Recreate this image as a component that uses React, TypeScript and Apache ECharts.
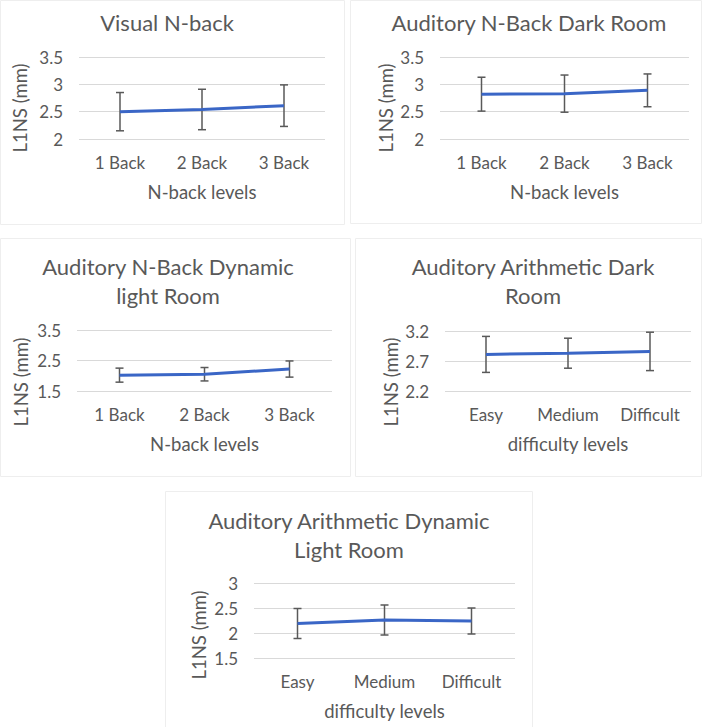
import React, { useEffect, useRef } from "react";
import * as echarts from "echarts";

const nbackCategories = ["1 Back", "2 Back", "3 Back"];
const difficultyCategories = ["Easy", "Medium", "Difficult"];

const visualMean = [2.5, 2.54, 2.61];
const visualErr = [0.35, 0.37, 0.38];
const darkMean = [2.82, 2.83, 2.89];
const darkErr = [0.31, 0.34, 0.3];
const dynMean = [2.02, 2.05, 2.22];
const dynErr = [0.23, 0.22, 0.265];
const arithDarkMean = [2.81, 2.83, 2.86];
const arithDarkErr = [0.3, 0.25, 0.32];
const arithDynMean = [2.19, 2.26, 2.24];
const arithDynErr = [0.3, 0.3, 0.26];

const titles = [
  "Visual N-back",
  "Auditory N-Back Dark Room",
  "Auditory N-Back Dynamic\nlight Room",
  "Auditory Arithmetic Dark\nRoom",
  "Auditory Arithmetic Dynamic\nLight Room",
];
const xTitles = ["N-back levels", "N-back levels", "N-back levels", "difficulty levels", "difficulty levels"];
const yTitle = "L1NS (mm)";
const yMins = [2, 2, 1.5, 2.2, 1.5];
const yMaxs = [3.5, 3.5, 3.5, 3.2, 3];
const yIntervals = [0.5, 0.5, 1, 0.5, 0.5];

const FONT = "Lato, 'Open Sans', sans-serif";
const TEXT = "#595959";
const BLUE = "#3a66c6";
const BAR = "#595959";

export default function App() {
  const ref = useRef<HTMLDivElement>(null);
  useEffect(() => {
    if (!ref.current) return;
    const chart = echarts.init(ref.current, undefined, { renderer: "svg" });

    const panels = [
      { cats: nbackCategories, mean: visualMean, err: visualErr, grid: { left: 79, top: 57, width: 246, height: 82 }, title: [167, 7.5], yT: [20, 108], box: [0, 0, 345, 225] },
      { cats: nbackCategories, mean: darkMean, err: darkErr, grid: { left: 440, top: 57, width: 249, height: 82 }, title: [529, 8], yT: [386, 108], box: [350, 0, 352, 224] },
      { cats: nbackCategories, mean: dynMean, err: dynErr, grid: { left: 77, top: 330, width: 255, height: 61 }, title: [168, 252], yT: [21, 382], box: [0, 238, 351, 239] },
      { cats: difficultyCategories, mean: arithDarkMean, err: arithDarkErr, grid: { left: 445, top: 331, width: 246, height: 60 }, title: [533, 252], yT: [391, 382], box: [355, 238, 347, 239] },
      { cats: difficultyCategories, mean: arithDynMean, err: arithDynErr, grid: { left: 254, top: 583, width: 261, height: 75 }, title: [349, 505.5], yT: [199, 635], box: [165, 491, 368, 240] },
    ];

    const option: any = {
      animation: false,
      backgroundColor: "#ffffff",
      textStyle: { fontFamily: FONT },
      title: panels.map((p, i) => ({
        text: titles[i],
        left: p.title[0],
        top: p.title[1],
        textAlign: "center",
        padding: 0,
        textStyle: { fontFamily: FONT, fontSize: 22, fontWeight: "normal", color: TEXT, lineHeight: 29 },
      })),
      grid: panels.map((p) => ({ ...p.grid, containLabel: false })),
      xAxis: panels.map((p, i) => ({
        type: "category",
        gridIndex: i,
        data: p.cats,
        boundaryGap: true,
        axisLine: { show: false },
        axisTick: { show: false },
        axisLabel: { color: TEXT, fontSize: 17, fontFamily: FONT, margin: 15 },
        name: xTitles[i],
        nameLocation: "middle",
        nameGap: 43,
        nameTextStyle: { color: TEXT, fontSize: 18.5, fontFamily: FONT },
      })),
      yAxis: panels.map((p, i) => ({
        type: "value",
        gridIndex: i,
        min: yMins[i],
        max: yMaxs[i],
        interval: yIntervals[i],
        axisLine: { show: false },
        axisTick: { show: false },
        axisLabel: { color: TEXT, fontSize: 17, fontFamily: FONT, margin: 16 },
        splitLine: { lineStyle: { color: "#d9d9d9", width: 1 } },
      })),
      graphic: [
        ...panels.map((p) => ({
          type: "rect",
          silent: true,
          z: -10,
          shape: { x: p.box[0] + 0.5, y: p.box[1] + 0.5, width: p.box[2] - 1, height: p.box[3] - 1 },
          style: { fill: "none", stroke: "#eeeeee", lineWidth: 1 },
        })),
        ...panels.map((p) => ({
          type: "text",
          x: p.yT[0],
          y: p.yT[1],
          rotation: Math.PI / 2,
          style: { text: yTitle, fill: TEXT, font: `18.5px ${FONT}`, align: "center", verticalAlign: "middle" },
        })),
      ],
      series: panels.flatMap((p, i) => [
        {
          type: "custom",
          xAxisIndex: i,
          yAxisIndex: i,
          z: 2,
          encode: { x: 0, y: [1, 2] },
          data: p.mean.map((m, k) => [k, m - p.err[k], m + p.err[k]]),
          renderItem: (params: any, api: any) => {
            const x = api.value(0);
            const lo = api.coord([x, api.value(1)]);
            const hi = api.coord([x, api.value(2)]);
            const w = 4;
            const style = { stroke: BAR, lineWidth: 1.5 };
            return {
              type: "group",
              children: [
                { type: "line", shape: { x1: lo[0], y1: lo[1], x2: hi[0], y2: hi[1] }, style },
                { type: "line", shape: { x1: lo[0] - w, y1: lo[1], x2: lo[0] + w, y2: lo[1] }, style },
                { type: "line", shape: { x1: hi[0] - w, y1: hi[1], x2: hi[0] + w, y2: hi[1] }, style },
              ],
            };
          },
        },
        {
          type: "line",
          xAxisIndex: i,
          yAxisIndex: i,
          z: 3,
          data: p.mean,
          showSymbol: false,
          symbol: "none",
          lineStyle: { color: BLUE, width: 3 },
          itemStyle: { color: BLUE },
        },
      ]),
    };
    chart.setOption(option);
    return () => chart.dispose();
  }, []);
  return <div ref={ref} style={{ position: "absolute", left: 0, top: 0, width: 702, height: 727 }} />;
}
